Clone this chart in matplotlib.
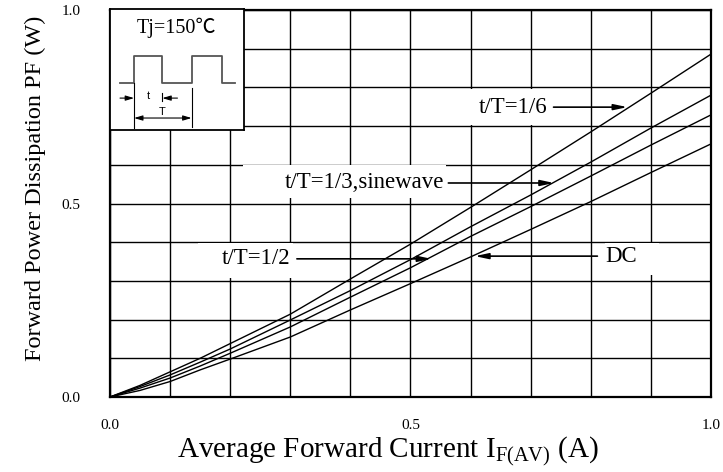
import matplotlib
matplotlib.use("Agg")
import matplotlib.pyplot as plt
from matplotlib.patches import Rectangle
import numpy as np

plt.rcParams["font.family"] = ["Liberation Serif", "DejaVu Serif"]
plt.rcParams["mathtext.fontset"] = "custom"
plt.rcParams["mathtext.rm"] = "Liberation Serif"

# Average forward current (A)
current = [0, 0.05, 0.1, 0.15, 0.2, 0.3, 0.4, 0.5, 0.6, 0.7, 0.8, 0.9, 1.0]

# Forward power dissipation (W), one list per duty
pf_1_6 = [0, 0.030, 0.065, 0.100, 0.138, 0.214, 0.305, 0.395, 0.490, 0.587, 0.685, 0.785, 0.886]
pf_1_3 = [0, 0.027, 0.057, 0.090, 0.124, 0.199, 0.275, 0.355, 0.440, 0.522, 0.607, 0.695, 0.780]
pf_1_2 = [0, 0.023, 0.049, 0.080, 0.113, 0.181, 0.258, 0.334, 0.415, 0.492, 0.571, 0.651, 0.729]
pf_dc = [0, 0.017, 0.040, 0.070, 0.098, 0.155, 0.225, 0.293, 0.362, 0.433, 0.505, 0.580, 0.654]

grid_ticks = np.round(np.arange(0, 1.01, 0.1), 1)
tick_labels = ["0.0", "", "", "", "", "0.5", "", "", "", "", "1.0"]

fig = plt.figure(figsize=(7.23, 4.72), dpi=100)
ax = fig.add_axes([0.1521, 0.1589, 0.8313, 0.8199])

for ys in (pf_1_6, pf_1_3, pf_1_2, pf_dc):
    ax.plot(current, ys, color="black", lw=1.0, zorder=3)

ax.set_xlim(0, 1.0)
ax.set_ylim(0, 1.0)
ax.set_xticks(grid_ticks)
ax.set_yticks(grid_ticks)
ax.set_xticklabels(tick_labels)
ax.set_yticklabels(tick_labels)
ax.tick_params(length=0, labelsize=11)
ax.tick_params(axis="x", pad=16)
ax.tick_params(axis="y", pad=21)
ax.grid(True, color="black", lw=1.0)
ax.set_axisbelow(True)
for s in ax.spines.values():
    s.set_linewidth(1.6)

ax.set_xlabel(r"Average Forward Current I$_{\mathrm{F(AV)}}$ (A)", fontsize=21)
ax.xaxis.set_label_coords(0.462, -0.095)
ax.set_ylabel("Forward Power Dissipation PF (W)", fontsize=17.5)
ax.yaxis.set_label_coords(-0.107, 0.54)

# white boxes behind the labels (hide the grid)
for (x0, y0, w, h) in [(0.585, 0.703, 0.150, 0.093),
                       (0.221, 0.514, 0.338, 0.085),
                       (0.146, 0.307, 0.158, 0.091),
                       (0.823, 0.315, 0.091, 0.083)]:
    ax.add_patch(Rectangle((x0, y0), w, h, fc="white", ec="none", zorder=1.5))

arrow = dict(arrowstyle="-|>,head_length=0.8,head_width=0.17", color="black",
             lw=1.2, shrinkA=0, shrinkB=0)
fs = 16.5
ax.text(0.670, 0.749, "t/T=1/6", fontsize=fs, ha="center", va="center", zorder=4)
ax.annotate("", xy=(0.861, 0.749), xytext=(0.738, 0.749), arrowprops=arrow, zorder=4)
ax.text(0.423, 0.553, "t/T=1/3,sinewave", fontsize=fs, ha="center", va="center", zorder=4)
ax.annotate("", xy=(0.739, 0.553), xytext=(0.563, 0.553), arrowprops=arrow, zorder=4)
ax.text(0.243, 0.359, "t/T=1/2", fontsize=fs, ha="center", va="center", zorder=4)
ax.annotate("", xy=(0.535, 0.357), xytext=(0.311, 0.357), arrowprops=arrow, zorder=4)
ax.text(0.851, 0.362, "DC", fontsize=fs, ha="center", va="center", zorder=4)
ax.annotate("", xy=(0.607, 0.364), xytext=(0.811, 0.364), arrowprops=arrow, zorder=4)

# inset with the pulse definition
ins = ax.inset_axes([0.0, 0.690, 0.2228, 0.312])
ins.set_xlim(0, 1)
ins.set_ylim(0, 1)
ins.set_xticks([])
ins.set_yticks([])
ins.set_facecolor("white")
for s in ins.spines.values():
    s.set_linewidth(1.3)
ins.text(0.50, 0.85, "Tj=150℃", fontsize=14.5, ha="center", va="center",
         family=["Liberation Serif", "Noto Sans CJK JP"])
wx = [0.075, 0.180, 0.180, 0.391, 0.391, 0.609, 0.609, 0.835, 0.835, 0.932]
wy = [0.388, 0.388, 0.612, 0.612, 0.388, 0.388, 0.612, 0.612, 0.388, 0.388]
ins.plot(wx, wy, color="#555555", lw=1.3)
ins.plot([0.180, 0.180], [0.388, 0.017], color="black", lw=0.8)
ins.plot([0.609, 0.609], [0.347, 0.025], color="black", lw=0.8)
ins.plot([0.391, 0.391], [0.306, 0.240], color="black", lw=0.8)
small = dict(arrowstyle="-|>,head_length=0.5,head_width=0.15", color="black",
             lw=0.8, shrinkA=0, shrinkB=0)
ins.annotate("", xy=(0.180, 0.264), xytext=(0.075, 0.264), arrowprops=small)
ins.annotate("", xy=(0.391, 0.264), xytext=(0.504, 0.264), arrowprops=small)
ins.annotate("", xy=(0.609, 0.099), xytext=(0.180, 0.099),
             arrowprops=dict(arrowstyle="<|-|>,head_length=0.5,head_width=0.15",
                             color="black", lw=0.8, shrinkA=0, shrinkB=0))
ins.text(0.286, 0.28, "t", fontsize=8, ha="center", va="center", family="Liberation Sans")
ins.text(0.391, 0.15, "T", fontsize=8, ha="center", va="center", family="Liberation Sans")

fig.savefig("out.png", dpi=100)
